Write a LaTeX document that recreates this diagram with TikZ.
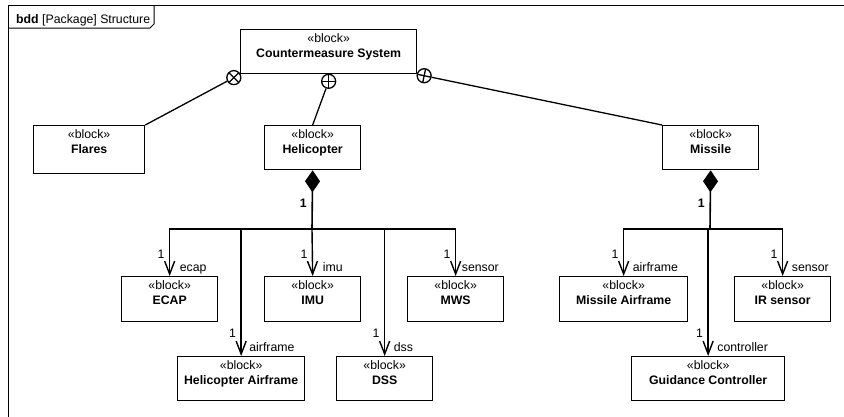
\documentclass[tikz,border=0pt]{standalone}
\usepackage{fontspec}
\setmainfont{Liberation Sans}
\usetikzlibrary{arrows.meta,calc}

\tikzset{
  txt/.style={inner sep=0pt, font=\fontsize{12.3}{14}\selectfont},
  blk/.style={draw, line width=1.3pt, inner sep=0pt, anchor=north west},
  stereo/.style={txt, anchor=base},
  bname/.style={txt, anchor=base, font=\fontsize{12.3}{14}\selectfont\bfseries},
  role/.style={txt, anchor=base west},
  mult/.style={txt, anchor=base east},
  part/.style={line width=1.4pt, -{Straight Barb[length=13pt,width=10pt,line width=1.4pt]}},
  comp/.style={line width=1.6pt, {Diamond[length=22pt,width=15pt]}-},
  owner/.style={line width=1.3pt},
  ownmark/.style={draw, circle, line width=1.3pt, minimum size=14pt, inner sep=0pt},
}

% block: name, x, y (top left), width, height, title
\newcommand\mkblock[6]{%
  \node[blk, minimum width=#4pt, minimum height=#5pt] (#1) at (#2,#3) {};
  \node[stereo] (#1-st) at ([yshift=-13.5pt]#1.north) {«block»};
  \node[bname] (#1-nm) at ([yshift=-28.5pt]#1.north) {#6};
}

\begin{document}
\begin{tikzpicture}[x=1pt,y=-1pt]
\useasboundingbox (0,0) rectangle (844,416);

% diagram frame and its name tab
\draw[line width=1pt] (8,440) -- (8,5) -- (870,5);
\draw[line width=1pt] (8,28) -- (150,28) -- (154,24) -- (154,5);
\node[txt, anchor=base west] (title) at (16,23.5)
  {\textbf{bdd} [Package] Structure};

% blocks
\mkblock{cms}{240}{29}{176}{44}{Countermeasure System}
\mkblock{flares}{33}{125}{111}{48}{Flares}
\mkblock{heli}{264}{125}{96}{44}{Helicopter}
\mkblock{missile}{662}{125}{96}{44}{Missile}
\mkblock{ecap}{121}{276}{96}{45}{ECAP}
\mkblock{imu}{264}{276}{96}{45}{IMU}
\mkblock{mws}{407}{276}{96}{45}{MWS}
\mkblock{hair}{177}{356}{127}{44}{Helicopter Airframe}
\mkblock{dss}{336}{356}{96}{44}{DSS}
\mkblock{mair}{559}{276}{128}{45}{Missile Airframe}
\mkblock{irs}{734}{276}{96}{45}{IR sensor}
\mkblock{guid}{631}{356}{153}{44}{Guidance Controller}

% containment (owner) markers
\node[ownmark] (own1) at ($(cms.south west)!7pt!(flares.north east)$) {};
\node[ownmark] (own2) at ([yshift=-7pt]cms.south) {};
\node[ownmark] (own3) at ($(cms.south east)!7pt!(missile.north west)$) {};
\draw[owner] ($(own1.center)+(45:7pt)$) -- ($(own1.center)+(225:7pt)$)
             ($(own1.center)+(135:7pt)$) -- ($(own1.center)+(315:7pt)$);
\draw[owner] (own2.north) -- (own2.south) (own2.west) -- (own2.east);
\draw[owner] ($(own3.center)+(-12:7pt)$) -- ($(own3.center)+(168:7pt)$)
             ($(own3.center)+(78:7pt)$) -- ($(own3.center)+(258:7pt)$);
\draw[owner] (own1) -- (flares.north east);
\draw[owner] (own2) -- (heli.north);
\draw[owner] (own3) -- (missile.north west);

% helicopter composition
\coordinate (hbus) at (312,229);
\draw[comp] (heli.south) -- (hbus);
\node[txt, anchor=base east, font=\fontsize{12.3}{14}\selectfont\bfseries] (hm) at (307,207.5) {1};
\draw[part] (hbus) -| (ecap.north);
\draw[part] (hbus) -| (hair.north);
\draw[part] (hbus) -- (imu.north);
\draw[part] (hbus) -| (dss.north);
\draw[part] (hbus) -| (mws.north);

\node[mult] (ecap-m) at ([xshift=-5pt]ecap.north |- 0,258) {1};
\node[role] (ecap-r) at ([xshift=10pt]ecap.north |- 0,271) {ecap};
\node[mult] (imu-m) at ([xshift=-5pt]imu.north |- 0,258) {1};
\node[role] (imu-r) at ([xshift=10pt]imu.north |- 0,271) {imu};
\node[mult] (mws-m) at ([xshift=-5pt]mws.north |- 0,258) {1};
\node[role] (mws-r) at ([xshift=6pt]mws.north |- 0,271) {sensor};
\node[mult] (hair-m) at ([xshift=-5pt]hair.north |- 0,337) {1};
\node[role] (hair-r) at ([xshift=8pt]hair.north |- 0,351) {airframe};
\node[mult] (dss-m) at ([xshift=-5pt]dss.north |- 0,337) {1};
\node[role] (dss-r) at ([xshift=9pt]dss.north |- 0,351) {dss};

% missile composition
\coordinate (mbus) at (710,229);
\draw[comp] (missile.south) -- (mbus);
\node[txt, anchor=base east, font=\fontsize{12.3}{14}\selectfont\bfseries] (mm) at (705,207.5) {1};
\draw[part] (mbus) -| (mair.north);
\draw[part] (mbus) -| (irs.north);
\draw[part] (mbus) -| (guid.north);

\node[mult] (mair-m) at ([xshift=-5pt]mair.north |- 0,258) {1};
\node[role] (mair-r) at ([xshift=9pt]mair.north |- 0,271) {airframe};
\node[mult] (irs-m) at ([xshift=-5pt]irs.north |- 0,258) {1};
\node[role] (irs-r) at ([xshift=9pt]irs.north |- 0,271) {sensor};
\node[mult] (guid-m) at ([xshift=-5pt]guid.north |- 0,337) {1};
\node[role] (guid-r) at ([xshift=9pt]guid.north |- 0,351) {controller};
\end{tikzpicture}
\end{document}
